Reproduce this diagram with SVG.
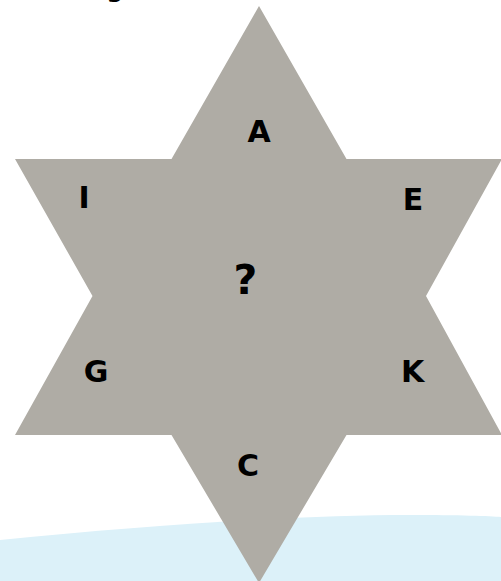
<svg xmlns="http://www.w3.org/2000/svg" width="501" height="581" viewBox="0 0 501 581">
<style>
.lbl{font-family:"DejaVu Sans","Liberation Sans",sans-serif;font-weight:700;font-size:30px;fill:#000;text-anchor:middle}
.star{fill:#afaca5}
</style>
<rect width="501" height="581" fill="#fff"/>
<g id="header">
<text x="115" y="-4" style="font-family:'DejaVu Sans','Liberation Sans',sans-serif;font-size:30px;fill:#000;text-anchor:middle">g</text>
</g>
<g id="wave">
<path d="M0,540 C150,525 300,515 410,515 C460,515 490,516 501,517 L501,581 L0,581 Z" fill="#dcf1f9"/>
</g>
<g id="star">
<polygon class="star" points="259,6 346.5,159 502,159 426,296 502,435 346.5,435 259,583 171.5,435 15,435 92.5,296 15,159 171.5,159"/>
</g>
<g id="node-A"><text class="lbl" x="259" y="141.5">A</text></g>
<g id="node-I"><text class="lbl" x="84" y="208">I</text></g>
<g id="node-E"><text class="lbl" x="413" y="210">E</text></g>
<g id="node-Q"><text class="lbl" x="245.5" y="294" style="font-size:41px">?</text></g>
<g id="node-G"><text class="lbl" x="96" y="382">G</text></g>
<g id="node-K"><text class="lbl" x="412.5" y="382">K</text></g>
<g id="node-C"><text class="lbl" x="248" y="476">C</text></g>
<g id="connectors"></g>
</svg>
